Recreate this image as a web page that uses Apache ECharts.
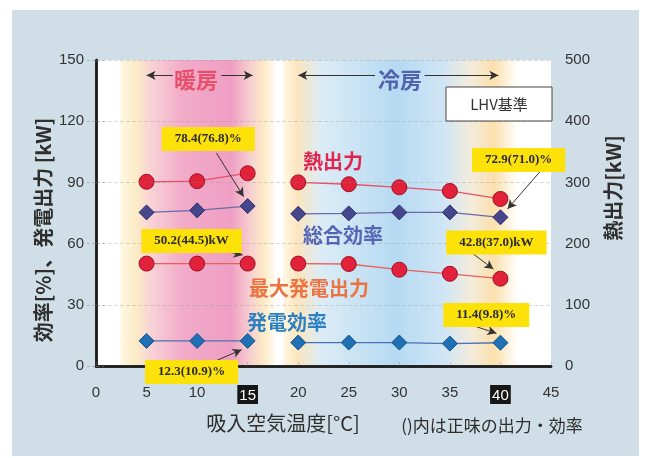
<!DOCTYPE html>
<html>
<head>
<meta charset="utf-8">
<script src="https://cdn.jsdelivr.net/npm/echarts@6/dist/echarts.min.js"></script>
<style>
  html, body { margin: 0; padding: 0; background: #ffffff; }
  #wrap { position: relative; width: 647px; height: 458px; background: #ffffff; }
  #panel { position: absolute; left: 12px; top: 10px; width: 627px; height: 446px; background: #cfdee7; }
  #chart { position: absolute; left: 0; top: 0; width: 647px; height: 458px; }
</style>
</head>
<body>
<div id="wrap">
  <div id="panel"></div>
  <div id="chart"></div>
</div>
<script>
// Intake air temperature [°C]
const temperatures = [5, 10, 15, 20, 25, 30, 35, 40];
// Operating mode at each temperature (heating / cooling)
const modes = ['heat', 'heat', 'heat', 'cool', 'cool', 'cool', 'cool', 'cool'];
// Heat output [kW] (right axis)
const heatOutput = [301, 302, 315, 300, 297, 292, 286, 273];
// Total efficiency [%]
const totalEfficiency = [75.3, 76.3, 78.4, 74.6, 74.8, 75.3, 75.3, 72.9];
// Maximum generated power [kW]
const maxPower = [50.2, 50.2, 50.2, 50.2, 50.0, 47.2, 45.2, 42.8];
// Generating efficiency [%]
const powerEfficiency = [12.3, 12.3, 12.3, 11.5, 11.5, 11.5, 11.0, 11.4];

// Season ranges on the temperature axis
const heatingRange = [2.4, 17.7];
const coolingRange = [18.5, 41.7];

// X axis ticks
const xTicks = [0, 5, 10, 15, 20, 25, 30, 35, 40, 45];
const highlightTicks = [15, 40];
const leftTicks = [0, 30, 60, 90, 120, 150];
const rightTicks = [0, 100, 200, 300, 400, 500];

// Callouts: value text, box anchor and arrow (data coordinates on the left axis).
// shift moves the box below the anchor when it sits under the x axis.
const callouts = [
  { text: '78.4(76.8)%', box: [11.1, 111.3], shift: 0, from: [11.9, 104.5], to: [14.6, 83.0] },
  { text: '50.2(44.5)kW', box: [9.45, 61.3], shift: 0, from: [12.9, 56.1], to: [14.5, 54.4] },
  { text: '12.3(10.9)%', box: [9.45, 0], shift: 6, from: [11.7, 2.2], to: [14.4, 8.0] },
  { text: '72.9(71.0)%', box: [41.8, 101.0], shift: 0, from: [43.9, 95.2], to: [40.7, 77.0] },
  { text: '42.8(37.0)kW', box: [39.6, 60.5], shift: 0, from: [37.3, 55.0], to: [39.3, 47.5] },
  { text: '11.4(9.8)%', box: [38.6, 25.0], shift: 0, from: [37.3, 19.8], to: [39.6, 16.0] }
];

// Build [x, y] pairs, breaking the line where the operating mode changes
function pairs(values) {
  const out = [];
  values.forEach((v, i) => {
    if (i > 0 && modes[i] !== modes[i - 1]) out.push(['-', '-']);
    out.push([temperatures[i], v]);
  });
  return out;
}

const chart = echarts.init(document.getElementById('chart'), null, { renderer: 'canvas' });

const G = echarts.graphic;
const heatingGradient = new G.LinearGradient(0, 0, 1, 0, [
  { offset: 0.00, color: 'rgba(255,246,222,0.9)' },
  { offset: 0.10, color: '#fcecc6' },
  { offset: 0.20, color: '#f8d2d6' },
  { offset: 0.40, color: '#f2abc9' },
  { offset: 0.72, color: '#ef9fc3' },
  { offset: 0.84, color: '#f7cfd0' },
  { offset: 0.93, color: '#fcebc6' },
  { offset: 1.00, color: 'rgba(255,250,238,0.9)' }
]);
const coolingGradient = new G.LinearGradient(0, 0, 1, 0, [
  { offset: 0.00, color: 'rgba(255,246,226,0.9)' },
  { offset: 0.06, color: '#fbe5bd' },
  { offset: 0.16, color: '#dcecf6' },
  { offset: 0.48, color: '#b6daf2' },
  { offset: 0.68, color: '#cfe5f5' },
  { offset: 0.80, color: '#f3ecdc' },
  { offset: 0.90, color: '#fbe0ac' },
  { offset: 1.00, color: 'rgba(255,255,255,0.9)' }
]);

const sansJP = '"Noto Sans CJK JP", "Noto Sans", sans-serif';
const sansLatin = '"Liberation Sans", Arial, sans-serif';

function circleSeries(name, values, yAxisIndex, lineColor) {
  return {
    name, type: 'line', xAxisIndex: 0, yAxisIndex, z: 4,
    data: pairs(values), connectNulls: false,
    symbol: 'circle', symbolSize: 15,
    lineStyle: { color: lineColor, width: 1.3 },
    itemStyle: { color: '#e2223b', borderColor: '#9e1026', borderWidth: 1 },
    emphasis: { disabled: true }, animation: false
  };
}
function diamondSeries(name, values, lineColor, fill, border) {
  return {
    name, type: 'line', xAxisIndex: 0, yAxisIndex: 0, z: 4,
    data: pairs(values), connectNulls: false,
    symbol: 'diamond', symbolSize: 15,
    lineStyle: { color: lineColor, width: 1.3 },
    itemStyle: { color: fill, borderColor: border, borderWidth: 1 },
    emphasis: { disabled: true }, animation: false
  };
}

// Value callouts sit above the plot frame
const calloutSeries = {
  name: 'callouts', type: 'line', xAxisIndex: 0, yAxisIndex: 0, z: 12,
  data: [], silent: true, animation: false,
  markLine: {
    z: 12, silent: true, animation: false,
    symbol: ['none', 'arrow'], symbolSize: [7, 9],
    lineStyle: { color: '#333', width: 1, type: 'solid' },
    label: { show: false },
    data: callouts.map(c => [{ coord: c.from }, { coord: c.to }])
  },
  markPoint: {
    z: 12, silent: true, animation: false,
    symbol: 'rect', symbolSize: 0,
    label: {
      show: true, position: 'inside',
      backgroundColor: '#fde20a', color: '#2a2a2a',
      fontFamily: '"Liberation Serif", "Times New Roman", serif',
      fontWeight: 'bold', fontSize: 13, padding: [6, 13, 5, 13]
    },
    data: callouts.map(c => ({
      coord: c.box, value: c.text,
      label: { formatter: c.text, offset: [0, c.shift] }
    }))
  }
};

// Season bands and season headers with arrows
const bandSeries = {
  name: 'bands', type: 'line', xAxisIndex: 0, yAxisIndex: 0, z: 1,
  data: [], silent: true, animation: false,
  markArea: {
    silent: true, animation: false,
    data: [
      [{ xAxis: heatingRange[0], itemStyle: { color: heatingGradient } }, { xAxis: heatingRange[1] }],
      [{ xAxis: coolingRange[0], itemStyle: { color: coolingGradient } }, { xAxis: coolingRange[1] }]
    ]
  },
  markLine: {
    silent: true, animation: false,
    symbol: ['none', 'arrow'], symbolSize: [7, 9],
    lineStyle: { color: '#333', width: 1, type: 'solid' },
    label: { show: false },
    data: [
      [{ coord: [7.6, 142.5] }, { coord: [5.0, 142.5] }],
      [{ coord: [12.4, 142.5] }, { coord: [15.5, 142.5] }],
      [{ coord: [27.6, 142.5] }, { coord: [20.0, 142.5] }],
      [{ coord: [32.5, 142.5] }, { coord: [39.8, 142.5] }]
    ]
  }
};

const option = {
  backgroundColor: 'transparent',
  animation: false,
  grid: { left: 96, right: 96, top: 60, bottom: 92, show: true, backgroundColor: '#ffffff', borderWidth: 0 },
  xAxis: [{
    type: 'value', min: xTicks[0], max: xTicks[xTicks.length - 1], interval: 5, z: 8,
    axisLine: { show: true, onZero: false, lineStyle: { color: '#1e1e1e', width: 2.5 } },
    axisTick: { show: true, inside: true, length: 4, lineStyle: { color: 'rgba(120,120,120,0.35)' } },
    splitLine: { show: false },
    axisLabel: {
      margin: 19, color: '#333', fontFamily: sansLatin, fontSize: 15,
      formatter: v => highlightTicks.includes(v) ? '{hl|' + v + '}' : String(v),
      rich: { hl: { backgroundColor: '#161616', color: '#ffffff', fontFamily: sansLatin, fontSize: 15, padding: [3, 2, 1, 2] } }
    }
  }, {
    type: 'value', position: 'top', min: 0, max: 45, z: 8,
    axisLine: { show: true, lineStyle: { color: '#1e1e1e', width: 2.5 } },
    axisTick: { show: false }, axisLabel: { show: false }, splitLine: { show: false }
  }],
  yAxis: [{
    type: 'value', min: leftTicks[0], max: leftTicks[leftTicks.length - 1], interval: 30, z: 8,
    axisLine: { show: true, lineStyle: { color: '#1e1e1e', width: 2.5 } },
    axisTick: { show: true, length: 9, lineStyle: { color: 'rgba(130,130,130,0.45)', type: 'dashed' } },
    splitLine: { show: true, lineStyle: { color: 'rgba(140,140,140,0.3)', type: 'dashed' } },
    axisLabel: { margin: 12, color: '#333', fontFamily: sansLatin, fontSize: 15 }
  }, {
    type: 'value', position: 'right', min: rightTicks[0], max: rightTicks[rightTicks.length - 1], interval: 100, z: 8,
    axisLine: { show: true, lineStyle: { color: '#1e1e1e', width: 2.5 } },
    axisTick: { show: true, length: 8, lineStyle: { color: 'rgba(130,130,130,0.45)', type: 'dashed' } },
    splitLine: { show: false },
    axisLabel: { margin: 14, color: '#333', fontFamily: sansLatin, fontSize: 15 }
  }],
  series: [
    bandSeries,
    circleSeries('熱出力', heatOutput, 1, '#e8506a'),
    diamondSeries('総合効率', totalEfficiency, '#6a6aa8', '#46468c', '#2e2e6a'),
    circleSeries('最大発電出力', maxPower, 0, '#e8605a'),
    diamondSeries('発電効率', powerEfficiency, '#4a72b4', '#1f70b4', '#14528a'),
    calloutSeries
  ],
  graphic: { elements: [
    // season headers
    { type: 'text', x: 196, y: 80, z: 20, style: { text: '暖房', fill: '#e8506a', font: 'bold 22px ' + sansJP, textAlign: 'center', textVerticalAlign: 'middle' } },
    { type: 'text', x: 400, y: 80, z: 20, style: { text: '冷房', fill: '#5262ae', font: 'bold 22px ' + sansJP, textAlign: 'center', textVerticalAlign: 'middle' } },
    // basis box
    { type: 'rect', z: 20, shape: { x: 446, y: 87, width: 106, height: 34 }, style: { fill: '#ffffff', stroke: '#444', lineWidth: 1 } },
    { type: 'text', x: 499, y: 104, z: 21, style: { text: 'LHV基準', fill: '#333', font: '15px ' + sansJP, textAlign: 'center', textVerticalAlign: 'middle' } },
    // series names
    { type: 'text', x: 333, y: 161, z: 20, style: { text: '熱出力', fill: '#e0264f', font: 'bold 20px ' + sansJP, textAlign: 'center', textVerticalAlign: 'middle' } },
    { type: 'text', x: 343, y: 235, z: 20, style: { text: '総合効率', fill: '#5565b5', font: 'bold 20px ' + sansJP, textAlign: 'center', textVerticalAlign: 'middle' } },
    { type: 'text', x: 309, y: 288, z: 20, style: { text: '最大発電出力', fill: '#ec7242', font: 'bold 20px ' + sansJP, textAlign: 'center', textVerticalAlign: 'middle' } },
    { type: 'text', x: 287, y: 322, z: 20, style: { text: '発電効率', fill: '#2c80c2', font: 'bold 20px ' + sansJP, textAlign: 'center', textVerticalAlign: 'middle' } },
    // axis names
    { type: 'text', x: 43, y: 230, rotation: Math.PI / 2, z: 20, style: { text: '効率[%]、発電出力 [kW]', fill: '#2e2e2e', font: 'bold 20px ' + sansJP, textAlign: 'center', textVerticalAlign: 'middle' } },
    { type: 'text', x: 613, y: 188, rotation: Math.PI / 2, z: 20, style: { text: '熱出力[kW]', fill: '#2e2e2e', font: 'bold 20px ' + sansJP, textAlign: 'center', textVerticalAlign: 'middle' } },
    { type: 'text', x: 283, y: 423, z: 20, style: { text: '吸入空気温度[°C]', fill: '#2e2e2e', font: '20px ' + sansJP, textAlign: 'center', textVerticalAlign: 'middle' } },
    { type: 'text', x: 492, y: 426, z: 20, style: { text: '()内は正味の出力・効率', fill: '#2e2e2e', font: '17px ' + sansJP, textAlign: 'center', textVerticalAlign: 'middle' } }
  ] }
};

chart.setOption(option);
</script>
</body>
</html>
